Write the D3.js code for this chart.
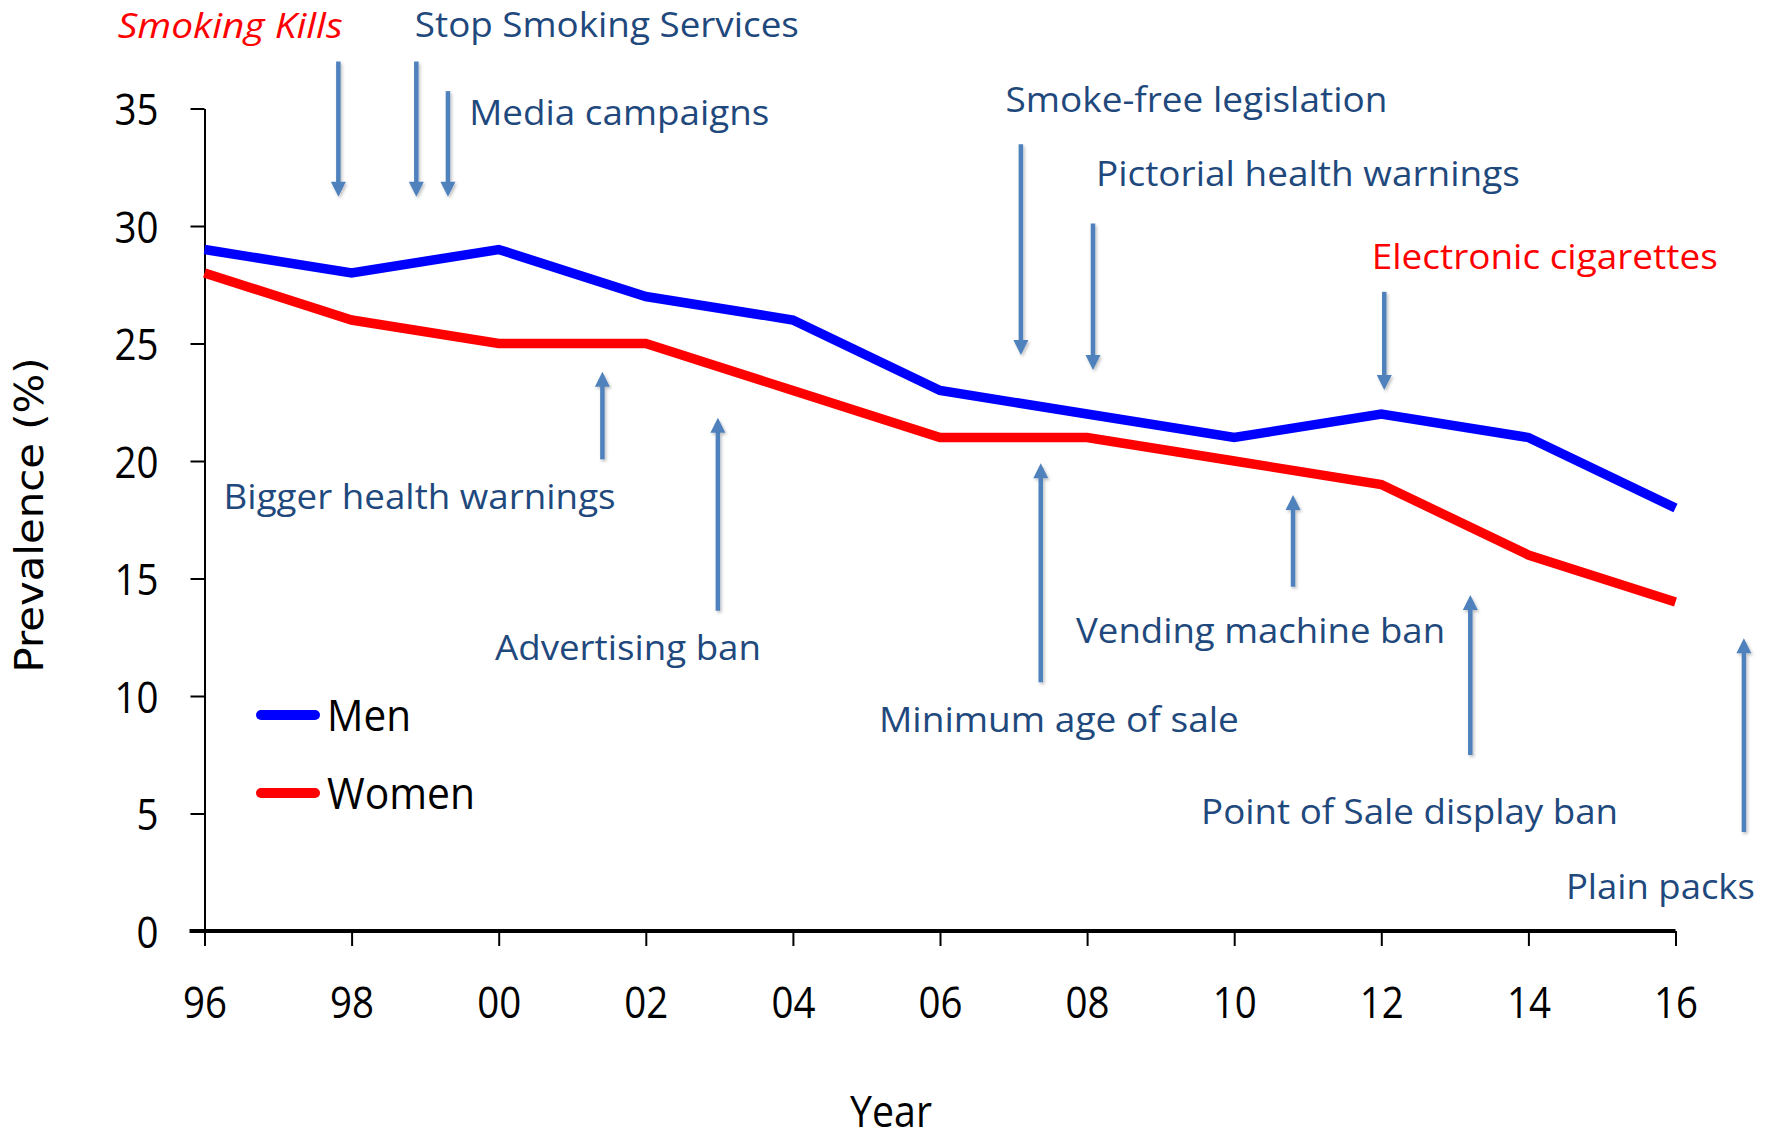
<!DOCTYPE html>
<html>
<head>
<meta charset="utf-8">
<script src="https://cdn.jsdelivr.net/npm/d3@7"></script>
<style>
  body { margin: 0; background: #fff; }
  svg { display: block; }
  .narrow { font-family: "Open Sans", "Liberation Sans", sans-serif; }
</style>
</head>
<body>
<div id="chart"></div>
<script>

// dane: rozpowszechnienie palenia (%)
var years = [1996, 1998, 2000, 2002, 2004, 2006, 2008, 2010, 2012, 2014, 2016];
var men   = [29, 28, 29, 27, 26, 23, 22, 21, 22, 21, 18];
var women = [28, 26, 25, 25, 23, 21, 21, 20, 19, 16, 14];
var yTicks = [0, 5, 10, 15, 20, 25, 30, 35];

// wydarzenia (strzalki) - rok, poczatek i koniec strzalki w jednostkach osi Y
var eventNames = ["Smoking Kills", "Stop Smoking Services", "Media campaigns",
                  "Bigger health warnings", "Advertising ban", "Smoke-free legislation",
                  "Minimum age of sale", "Pictorial health warnings", "Vending machine ban",
                  "Electronic cigarettes", "Point of Sale display ban", "Plain packs"];
var eventYear  = [1997.82, 1998.88, 1999.31, 2001.41, 2002.98, 2007.10,
                  2007.37, 2008.08, 2010.80, 2012.04, 2013.21, 2016.93];
var arrowFrom  = [37.0, 37.0, 35.74, 20.07, 13.63, 33.48, 10.58, 30.11, 14.65, 27.2, 7.49, 4.21];
var arrowTo    = [31.25, 31.25, 31.25, 23.8, 21.84, 24.51, 19.9, 23.87, 18.55, 23.02, 14.30, 12.46];
var eventRed   = [true, false, false, false, false, false, false, false, false, true, false, false];

// etykiety wydarzen: lewy brzeg (rok), linia bazowa (jednostki Y)
var labelYear  = [1994.82, 1998.86, 1999.60, 1996.26, 1999.95, 2006.89,
                  2005.17, 2008.12, 2007.85, 2011.87, 2009.55, 2014.51];
var labelValue = [38.0, 38.05, 34.29, 17.94, 11.53, 34.86, 8.46, 31.70, 12.24, 28.16, 4.54, 1.35];
var labelWidth = [225, 384, 300, 392, 266, 382, 360, 424, 369, 346, 417, 189];


/***** obszar rysowania *****/

var width = 1772, height = 1139;

var x = d3.scaleLinear().domain([1996, 2016]).range([204.5, 1675.5]);
var y = d3.scaleLinear().domain([0, 35]).range([931, 108.5]);

var svg = d3.select("#chart")
    .append("svg")
    .attr("width", width)
    .attr("height", height);

// cien strzalek
var defs = svg.append("defs");
defs.append("filter")
    .attr("id", "cien")
    .attr("x", "-50%").attr("y", "-10%").attr("width", "200%").attr("height", "120%")
    .append("feDropShadow")
    .attr("dx", 1.5).attr("dy", 2).attr("stdDeviation", 1.5)
    .attr("flood-color", "#000").attr("flood-opacity", 0.25);

// os Y
var yAxis = svg.append("g")
    .attr("transform", "translate(" + x(1996) + ",0)")
    .call(d3.axisLeft(y).tickValues(yTicks).tickSize(14).tickSizeOuter(0).tickPadding(32));

yAxis.select(".domain").attr("stroke", "#000").attr("stroke-width", 2);
yAxis.selectAll(".tick line").attr("stroke", "#000").attr("stroke-width", 2);
yAxis.selectAll(".tick text")
    .attr("class", "narrow")
    .style("font-size", "44px")
    .attr("fill", "#000")
    .attr("textLength", function(d){ return d < 10 ? 22 : 44; })
    .attr("lengthAdjust", "spacingAndGlyphs")
    .attr("dy", "0.37em");

// os X
var xAxis = svg.append("g")
    .attr("transform", "translate(0," + y(0) + ")")
    .call(d3.axisBottom(x).tickValues(years).tickSize(15).tickSizeOuter(0)
          .tickFormat(function(d){ return String(d % 100).padStart(2, "0"); }));

xAxis.select(".domain").remove();
xAxis.selectAll(".tick line").attr("stroke", "#000").attr("stroke-width", 2);
xAxis.selectAll(".tick text")
    .attr("class", "narrow")
    .style("font-size", "44px")
    .attr("fill", "#000")
    .attr("textLength", 44)
    .attr("lengthAdjust", "spacingAndGlyphs")
    .attr("y", 87)
    .attr("dy", 0);

xAxis.append("line")
    .attr("x1", x(1996) - 15)
    .attr("x2", x(2016))
    .attr("y1", 0).attr("y2", 0)
    .attr("stroke", "#000")
    .attr("stroke-width", 4);

// tytuly osi
svg.append("text")
    .attr("class", "narrow")
    .attr("x", 891)
    .attr("y", 1127)
    .attr("text-anchor", "middle")
    .attr("textLength", 82)
    .attr("lengthAdjust", "spacingAndGlyphs")
    .style("font-size", "44px")
    .text("Year");

svg.append("text")
    .attr("transform", "translate(43," + 515 + ") rotate(-90)")
    .attr("text-anchor", "middle")
    .attr("textLength", 315)
    .attr("lengthAdjust", "spacingAndGlyphs")
    .style("font-family", "'DejaVu Sans', Verdana, sans-serif")
    .style("font-size", "39px")
    .text("Prevalence (%)");

// linie
var line = d3.line()
    .x(function(d){ return x(d[0]); })
    .y(function(d){ return y(d[1]); });

var series = [
    {name: "Men", values: men, color: "#0000FF"},
    {name: "Women", values: women, color: "#FF0000"}
];

svg.selectAll(".seria")
    .data(series)
    .enter()
    .append("path")
    .attr("class", "seria")
    .attr("d", function(s){ return line(years.map(function(r, i){ return [r, s.values[i]]; })); })
    .attr("fill", "none")
    .attr("stroke", function(s){ return s.color; })
    .attr("stroke-width", 9.5)
    .attr("stroke-linejoin", "miter");

// legenda
var legenda = svg.selectAll(".legenda")
    .data(series)
    .enter()
    .append("g")
    .attr("class", "legenda")
    .attr("transform", function(d, i){ return "translate(261," + (715 + i * 78) + ")"; });

legenda.append("line")
    .attr("x1", 0).attr("x2", 54)
    .attr("y1", 0).attr("y2", 0)
    .attr("stroke", function(d){ return d.color; })
    .attr("stroke-width", 10)
    .attr("stroke-linecap", "round");

legenda.append("text")
    .attr("class", "narrow")
    .attr("x", 66)
    .attr("y", 16)
    .attr("textLength", function(d){ return d.name === "Men" ? 84 : 148; })
    .attr("lengthAdjust", "spacingAndGlyphs")
    .style("font-size", "44px")
    .text(function(d){ return d.name; });

// strzalki wydarzen
var events = eventNames.map(function(n, i){
    return {name: n, year: eventYear[i], from: arrowFrom[i], to: arrowTo[i], red: eventRed[i],
            lx: labelYear[i], ly: labelValue[i], lw: labelWidth[i]};
});

var head = 15;

var strzalki = svg.selectAll(".strzalka")
    .data(events)
    .enter()
    .append("g")
    .attr("class", "strzalka")
    .attr("filter", "url(#cien)");

strzalki.append("line")
    .attr("x1", function(d){ return x(d.year); })
    .attr("x2", function(d){ return x(d.year); })
    .attr("y1", function(d){ return y(d.from); })
    .attr("y2", function(d){
        var dir = y(d.to) > y(d.from) ? 1 : -1;
        return y(d.to) - dir * (head - 2);
    })
    .attr("stroke", "#4F81BD")
    .attr("stroke-width", 4.5);

strzalki.append("path")
    .attr("d", function(d){
        var cx = x(d.year), ty = y(d.to);
        var dir = y(d.to) > y(d.from) ? 1 : -1;
        return "M" + cx + "," + ty +
               "L" + (cx - 7.5) + "," + (ty - dir * head) +
               "L" + (cx + 7.5) + "," + (ty - dir * head) + "Z";
    })
    .attr("fill", "#4F81BD");

// etykiety wydarzen
svg.selectAll(".etykieta")
    .data(events)
    .enter()
    .append("text")
    .attr("class", "etykieta narrow")
    .attr("x", function(d){ return x(d.lx); })
    .attr("y", function(d){ return y(d.ly); })
    .attr("textLength", function(d){ return d.lw; })
    .attr("lengthAdjust", "spacingAndGlyphs")
    .style("font-size", "35px")
    .style("font-style", function(d){ return d.name === "Smoking Kills" ? "italic" : "normal"; })
    .attr("fill", function(d){ return d.red ? "#FF0000" : "#1F497D"; })
    .text(function(d){ return d.name; });

</script>
</body>
</html>
